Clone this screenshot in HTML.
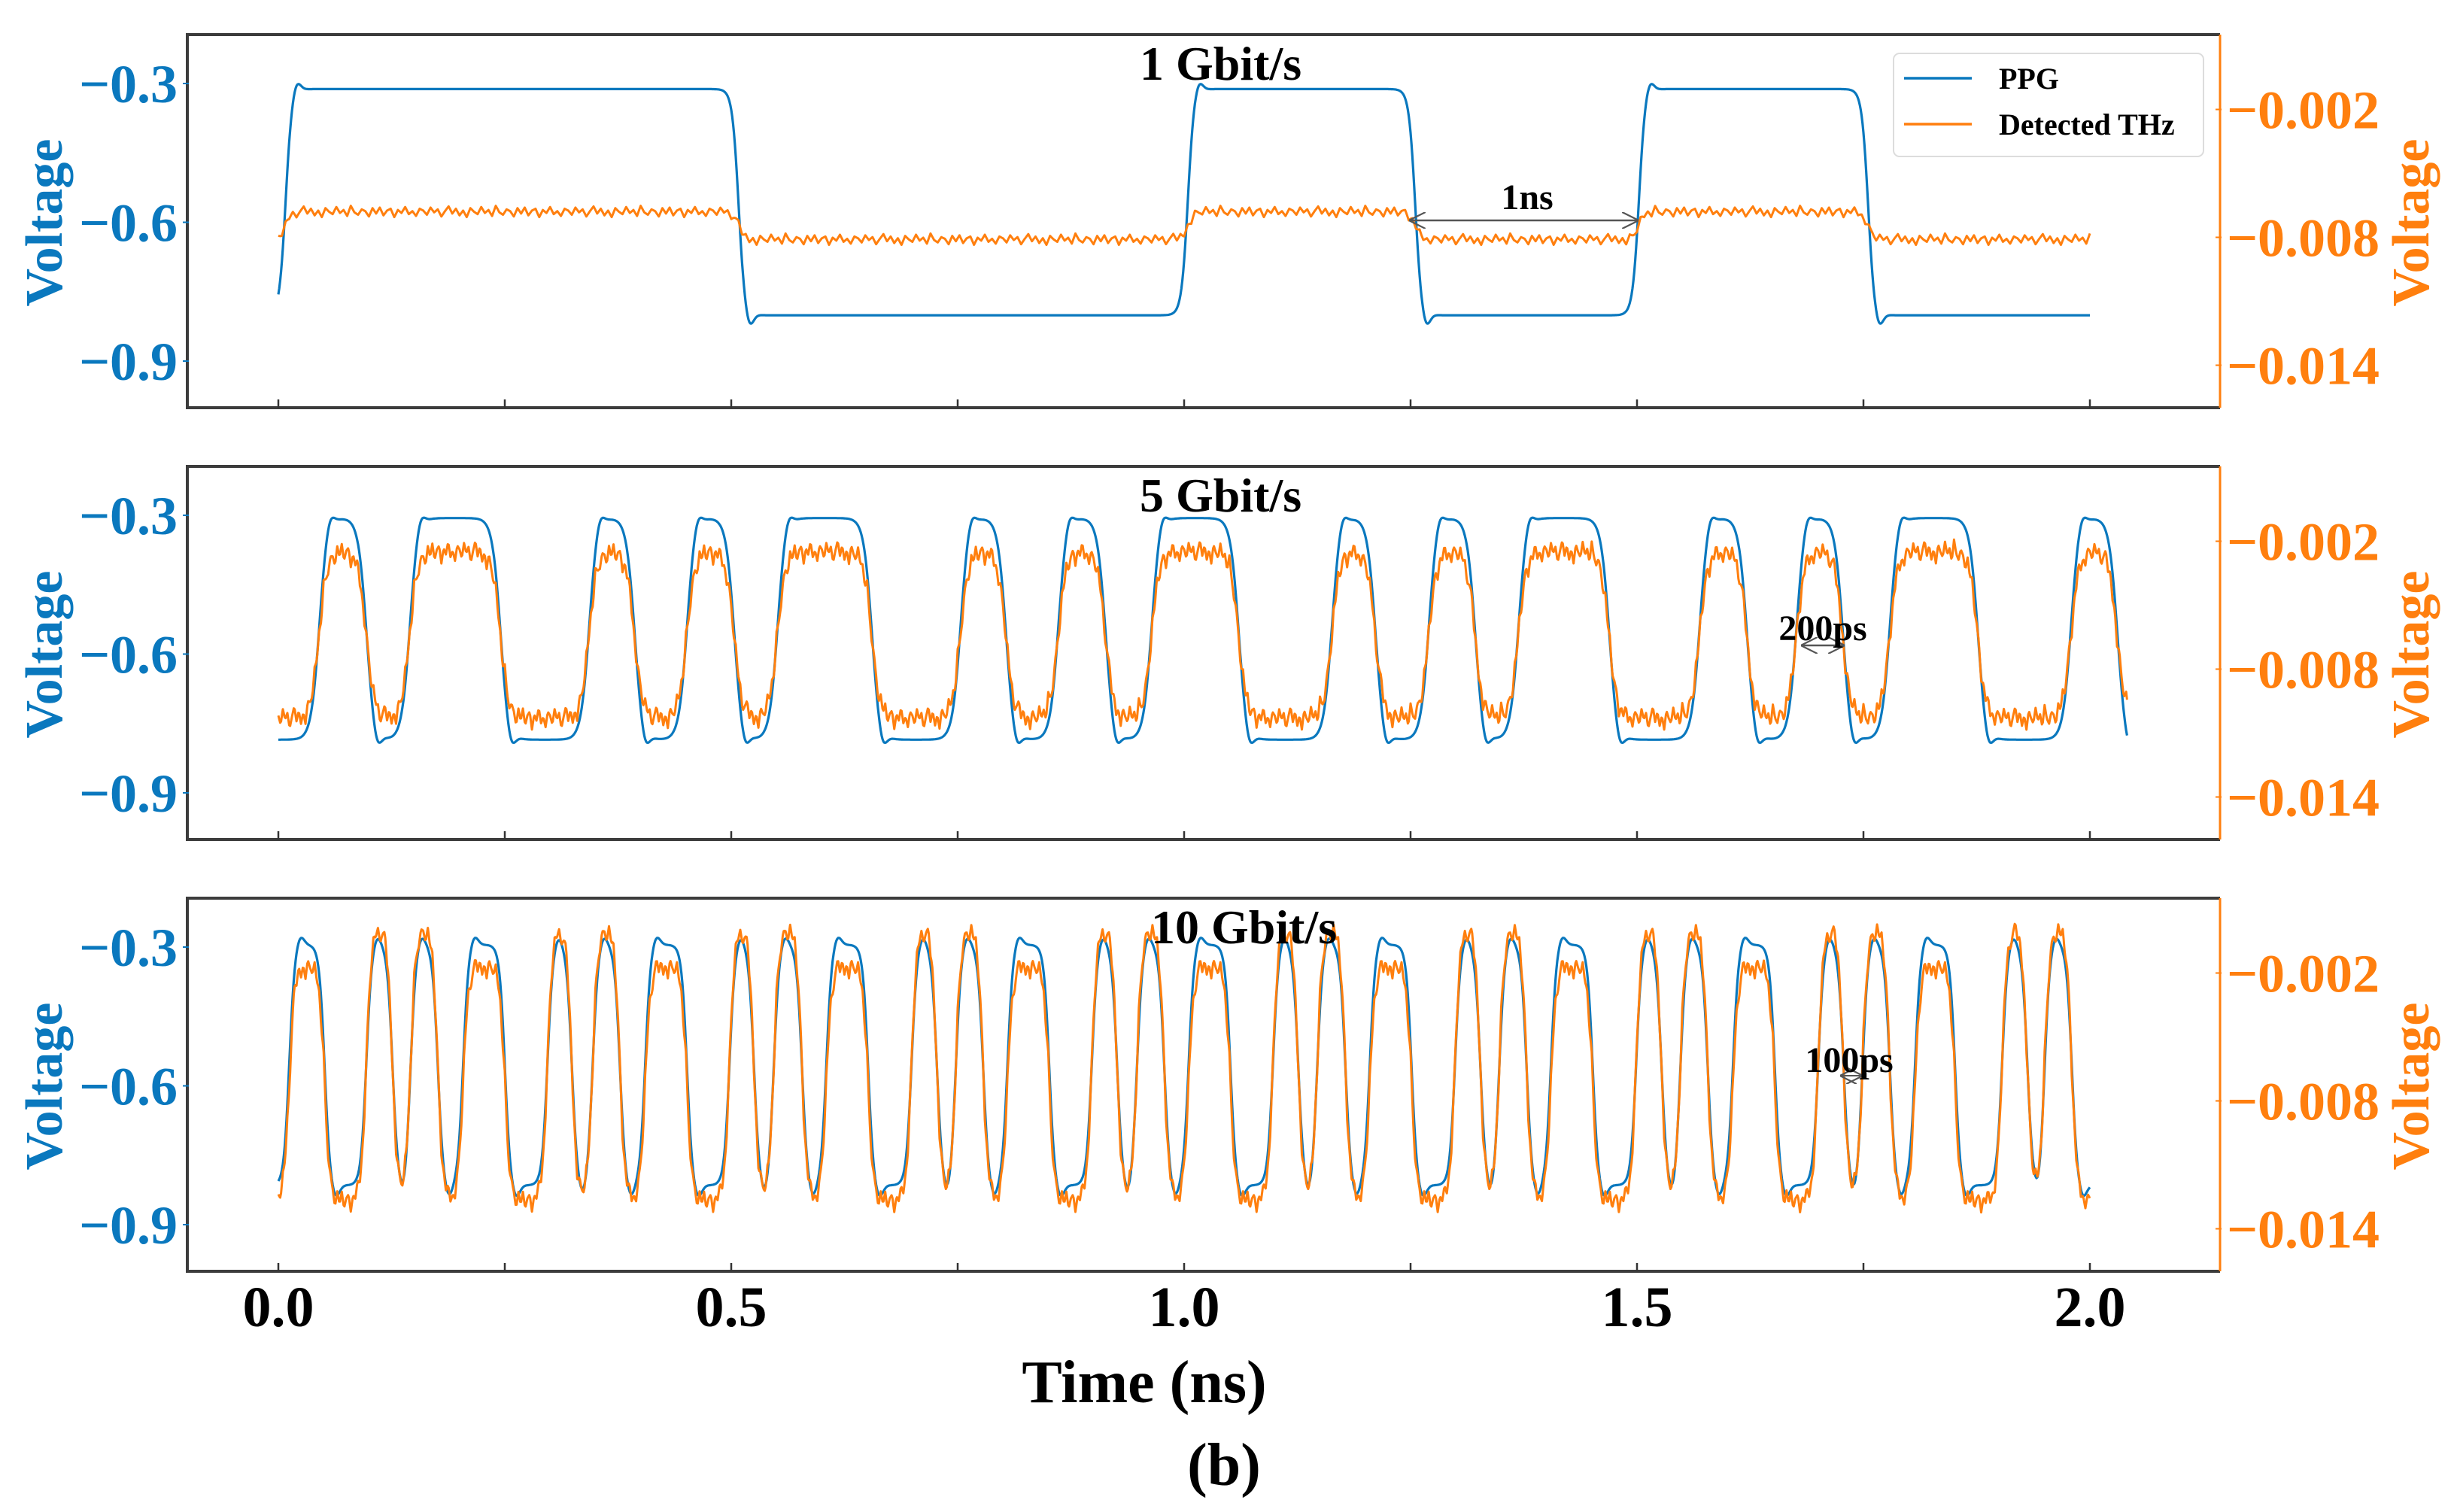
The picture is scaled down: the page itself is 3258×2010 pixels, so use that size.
<!DOCTYPE html>
<html><head><meta charset="utf-8">
<style>
html,body{margin:0;padding:0;background:#fff;}
svg{display:block;}
text{font-family:"Liberation Serif",serif;font-weight:bold;}
</style></head>
<body>
<svg id="fig" width="3258" height="2010" viewBox="0 0 3258 2010" xmlns="http://www.w3.org/2000/svg">
  <defs>
    <marker id="ahs" viewBox="0 0 10 10" refX="9" refY="5" markerWidth="22" markerHeight="22" orient="auto-start-reverse" markerUnits="userSpaceOnUse">
      <path d="M0,0 L10,5 L0,10" fill="none" stroke="#555" stroke-width="1"/>
    </marker>
  </defs>
  <g id="panels"></g>
  <text x="1521" y="1864" font-size="80" text-anchor="middle" fill="#000">Time (ns)</text>
  <text x="1627" y="1974" font-size="80" text-anchor="middle" fill="#000">(b)</text>
</svg>
<script>
// ---- data ----
const panelTitles = ["1 Gbit/s", "5 Gbit/s", "10 Gbit/s"];
const xTickValues = [0.0, 0.5, 1.0, 1.5, 2.0];
const xTickLabels = ["0.0", "0.5", "1.0", "1.5", "2.0"];
const leftTickValues = [-0.3, -0.6, -0.9];
const leftTickLabels = ["\u22120.3", "\u22120.6", "\u22120.9"];
const rightTickValues = [-0.002, -0.008, -0.014];
const rightTickLabels = ["\u22120.002", "\u22120.008", "\u22120.014"];
// high-level intervals [start, end] in ns
const p1High = [[0.008,0.508],[1.004,1.255],[1.502,1.755]];
const p2High = [[0.045,0.097],[0.145,0.245],[0.343,0.393],[0.451,0.503],[0.551,0.655],[0.753,0.803],[0.861,0.913],[0.964,1.06],[1.163,1.211],[1.27,1.321],[1.369,1.469],[1.569,1.621],[1.676,1.727],[1.779,1.876],[1.979,2.03]];
const p3High = [[0.012,0.051],[0.097,0.126],[0.146,0.176],[0.204,0.25],[0.297,0.324],[0.347,0.377],[0.405,0.451],[0.498,0.525],[0.547,0.578],[0.605,0.651],[0.699,0.727],[0.748,0.778],[0.805,0.851],[0.898,0.926],[0.948,0.978],[1.005,1.051],[1.098,1.126],[1.147,1.178],[1.205,1.251],[1.299,1.327],[1.348,1.378],[1.405,1.451],[1.499,1.527],[1.548,1.578],[1.606,1.652],[1.7,1.728],[1.749,1.779],[1.807,1.851],[1.903,1.931],[1.95,1.98]];
const endTimes = [2.0, 2.041, 2.0];
// PPG levels (V, left axis): [low, high]
const ppgLevels = [[-0.801,-0.312],[-0.785,-0.306],[-0.815,-0.295]];
// Detected THz levels (V, right axis): [low, wide high, narrow high]
const thzLevels = [[-0.0081,-0.0068,-0.0068],[-0.0103,-0.0025,-0.0024],[-0.0127,-0.0017,0.0001]];
const thzNoiseAmp = [0.00028,0.0006,0.0006];
const wiggle = [0.2,-0.5,0.7,-0.1,0.4,-0.8,0.1,0.9,-0.3,0.5,-0.6,0.2,-0.9,0.6,0.0,-0.4,0.8,-0.2,0.3,-0.7,1.0,-0.1,-0.5,0.4,0.1,-0.8,0.6,-0.3,0.7,-0.6,0.2,0.5,-0.9,0.3,-0.2,0.8,-0.4,0.1,-0.7,0.5];
const panelHigh = [p1High, p2High, p3High];

// ---- layout ----
const NS = "http://www.w3.org/2000/svg";
const L = 249, R = 2951, H = 496, X0 = 370, PXNS = 1204;
const tops = [46, 620, 1194];
const BLUE = "#0a78be", ORANGE = "#ff7f0e", FRAME = "#3c3c3c";
const tau = [0.0035, 0.0045, 0.003];
function xS(t){ return X0 + t*PXNS; }
function yL(v, top){ return top + 65 + (-0.3 - v)/0.3*184.5; }
function yR(v, top){ return top + 99.5 + (-0.002 - v)/0.006*170; }
function sig(x, k){ return 1/(1+Math.exp(-x/k)); }
function el(tag, attrs, parent){
  const e = document.createElementNS(NS, tag);
  for (const k in attrs) e.setAttribute(k, attrs[k]);
  parent.appendChild(e);
  return e;
}
function wig(t, step){
  const f = t/step, i = Math.floor(f), fr = f - i, n = wiggle.length;
  const a = wiggle[((i%n)+n)%n], b = wiggle[(((i+1)%n)+n)%n];
  return a + (b-a)*fr;
}
const root = document.getElementById("panels");
for (let p = 0; p < 3; p++){
  const top = tops[p], bot = top + H;
  const g = el("g", {}, root);
  
  
  const iv = panelHigh[p], k = tau[p];
  let dB = "", dO = "";
  const [bl, bh] = ppgLevels[p];
  const [ol, ohw, ohn] = thzLevels[p];
  for (let t = 0; t <= endTimes[p] + 1e-9; t += 0.001){
    let lev = 0, olev = 0, ov = 0;
    for (const [a, b] of iv){
      const s = sig(t-a, k) - sig(t-b, k);
      lev += s;
      const narrow = (b - a) < 0.035;
      olev += s * ((narrow ? ohn : ohw) - ol);
      ov += 0.022*Math.exp(-Math.pow((t-a-0.012)/0.006,2)) - 0.03*Math.exp(-Math.pow((t-b-0.012)/0.006,2));
    }
    const vb = bl + (bh-bl)*lev + ov;
    const vo = ol + olev + thzNoiseAmp[p]*wig(t, p===0?0.004:0.0025);
    dB += (dB ? "L" : "M") + xS(t).toFixed(1) + "," + yL(vb, top).toFixed(1);
    dO += (dO ? "L" : "M") + xS(t).toFixed(1) + "," + yR(vo, top).toFixed(1);
  }
  const lb = el("path", {d: dB, fill: "none", stroke: BLUE, "stroke-width": 3.2, "stroke-linejoin": "round"}, g);
  
  
  const lo = el("path", {d: dO, fill: "none", stroke: ORANGE, "stroke-width": 3, "stroke-linejoin": "round"}, g);
  
  
  const fr = el("path", {d: `M${R},${top} L${L},${top} L${L},${bot} L${R},${bot}`, fill: "none", stroke: FRAME, "stroke-width": 4}, g);
  
  
  const rs = el("line", {x1: R, y1: top, x2: R, y2: bot, stroke: ORANGE, "stroke-width": 3}, g);
  
  
  for (let i = 0; i <= 8; i++){
    const x = xS(i*0.25);
    const tk = el("line", {x1: x, y1: bot-11, x2: x, y2: bot, stroke: "#333", "stroke-width": 2.5}, g);
    
    
  }
  leftTickValues.forEach((v, i) => {
    const y = yL(v, top);
    const tk = el("line", {x1: L-6, y1: y, x2: L+2, y2: y, stroke: BLUE, "stroke-width": 2}, g);
    
    
    const tx = el("text", {x: 236, y: y+25, "font-size": 72, "text-anchor": "end", fill: BLUE}, g);
    tx.textContent = leftTickLabels[i];
    
    
  });
  rightTickValues.forEach((v, i) => {
    const y = yR(v, top);
    const tk = el("line", {x1: R-6, y1: y, x2: R+2, y2: y, stroke: ORANGE, "stroke-width": 2}, g);
    
    
    const tx = el("text", {x: 2960, y: y+25, "font-size": 72, "text-anchor": "start", fill: ORANGE}, g);
    tx.textContent = rightTickLabels[i];
    
    
  });
  const yt = el("text", {x: 0, y: 0, "font-size": 70, "text-anchor": "middle", fill: BLUE, transform: `translate(82,${top+250}) rotate(-90)`}, g);
  yt.textContent = "Voltage";
  
  
  const yt2 = el("text", {x: 0, y: 0, "font-size": 70, "text-anchor": "middle", fill: ORANGE, transform: `translate(3228,${top+250}) rotate(-90)`}, g);
  yt2.textContent = "Voltage";
  
  
  const tt = el("text", {x: p===2 ? 1530 : 1515, y: top+60, "font-size": 64, "text-anchor": "start", fill: "#000"}, g);
  tt.textContent = panelTitles[p];
  
  
}
const svg = document.getElementById("fig");
xTickValues.forEach((v, i) => {
  const tx = el("text", {x: xS(v), y: 1763, "font-size": 76, "text-anchor": "middle", fill: "#000"}, svg);
  tx.textContent = xTickLabels[i];
  
  
});
const a1 = el("line", {x1: xS(1.25), y1: 293, x2: xS(1.5), y2: 293, stroke: "#555", "stroke-width": 2.5, "marker-start": "url(#ahs)", "marker-end": "url(#ahs)"}, svg);


const t1 = el("text", {x: 2030, y: 278, "font-size": 48, "text-anchor": "middle", fill: "#000"}, svg);
t1.textContent = "1ns";


const a2 = el("line", {x1: 2396, y1: 858, x2: 2450, y2: 858, stroke: "#555", "stroke-width": 2.5, "marker-start": "url(#ahs)", "marker-end": "url(#ahs)"}, svg);


const t2 = el("text", {x: 2423, y: 851, "font-size": 48, "text-anchor": "middle", fill: "#000"}, svg);
t2.textContent = "200ps";


const a3 = el("line", {x1: 2448, y1: 1430, x2: 2474, y2: 1430, stroke: "#555", "stroke-width": 2, "marker-start": "url(#ahs)", "marker-end": "url(#ahs)"}, svg);


const t3 = el("text", {x: 2458, y: 1425, "font-size": 48, "text-anchor": "middle", fill: "#000"}, svg);
t3.textContent = "100ps";


const lg = el("g", {}, svg);


el("rect", {x: 2517, y: 71, width: 412, height: 137, rx: 8, fill: "#fff", stroke: "#dcdcdc", "stroke-width": 2}, lg);
const le1 = el("line", {x1: 2531, y1: 104, x2: 2621, y2: 104, stroke: BLUE, "stroke-width": 3.5}, lg);


const lt1 = el("text", {x: 2657, y: 118, "font-size": 40, fill: "#000"}, lg);
lt1.textContent = "PPG";


const le2 = el("line", {x1: 2531, y1: 165, x2: 2621, y2: 165, stroke: ORANGE, "stroke-width": 3.5}, lg);


const lt2 = el("text", {x: 2657, y: 179, "font-size": 40, fill: "#000"}, lg);
lt2.textContent = "Detected THz";


</script>
</body></html>
